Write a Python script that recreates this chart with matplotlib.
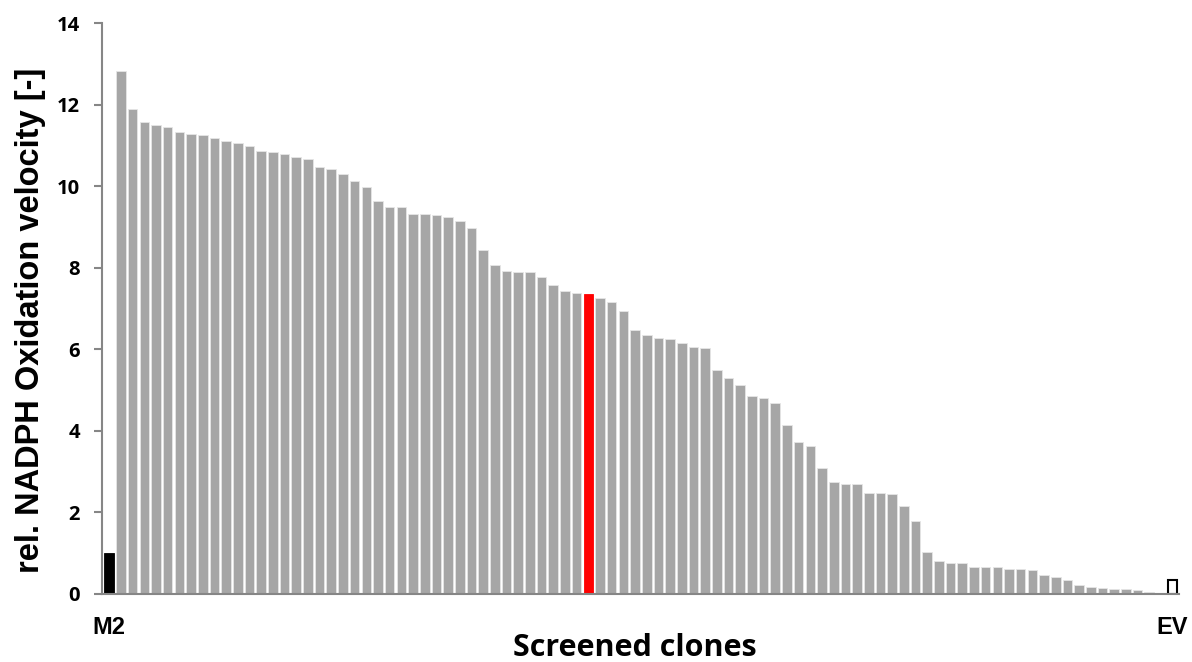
import matplotlib
matplotlib.use("Agg")
import matplotlib.pyplot as plt

# Relative NADPH oxidation velocity per clone (M2 reference, screened clones, empty vector)
clone_labels = ["M2"] + [""] * 90 + ["EV"]
velocity = [
    1.00,
    12.84, 11.90, 11.59, 11.50, 11.45, 11.34, 11.28, 11.25, 11.18, 11.10,
    11.07, 10.98, 10.86, 10.83, 10.79, 10.71, 10.66, 10.47, 10.42, 10.29,
    10.12, 9.98, 9.63, 9.50, 9.48, 9.31, 9.31, 9.29, 9.25, 9.15,
    8.97, 8.44, 8.06, 7.91, 7.90, 7.89, 7.78, 7.57, 7.44, 7.37,
    7.35, 7.26, 7.17, 6.93, 6.47, 6.34, 6.27, 6.25, 6.15, 6.05,
    6.04, 5.49, 5.29, 5.11, 4.86, 4.80, 4.67, 4.14, 3.71, 3.62,
    3.09, 2.73, 2.69, 2.68, 2.48, 2.48, 2.44, 2.16, 1.78, 1.02,
    0.79, 0.75, 0.74, 0.66, 0.66, 0.64, 0.61, 0.59, 0.57, 0.45,
    0.40, 0.34, 0.20, 0.16, 0.13, 0.12, 0.11, 0.09, 0.03, 0.02,
    0.33,
]
highlight_index = 41
y_ticks = [0, 2, 4, 6, 8, 10, 12, 14]

W, H = 1192, 662
fig = plt.figure(figsize=(W / 100, H / 100), dpi=100)
ax = fig.add_axes([102 / W, 1 - 593.5 / H, (1179 - 102) / W, (593.5 - 23.4) / H])

n = len(velocity)
x = list(range(n))
face = ["#a6a6a6"] * n
edge = ["#e6e6e6"] * n
face[0], edge[0] = "black", "black"
face[highlight_index], edge[highlight_index] = "#ff0000", "#ff0000"
face[-1], edge[-1] = "white", "black"
lw = [0.6] * n
lw[-1] = 1.5

ax.bar(x, velocity, width=0.82, color=face, edgecolor=edge, linewidth=lw, zorder=2)

ax.set_xlim(-0.62, n - 1 + 0.55)
ax.set_ylim(0, 14)
ax.set_yticks(y_ticks)
ax.set_yticklabels([str(t) for t in y_ticks], fontfamily="Open Sans",
                   fontweight="bold", fontsize=14.5)
ax.set_xticks(x)
ax.set_xticklabels(clone_labels, fontfamily="Liberation Sans",
                   fontweight="bold", fontsize=17)
ax.tick_params(axis="x", length=0, pad=16)
ax.tick_params(axis="y", length=6, width=1.5, color="#868686", direction="out", pad=10)

for side in ("top", "right"):
    ax.spines[side].set_visible(False)
for side in ("left", "bottom"):
    ax.spines[side].set_color("#868686")
    ax.spines[side].set_linewidth(1.5)
    ax.spines[side].set_zorder(3)

ax.set_ylabel("rel. NADPH Oxidation velocity [-]", fontfamily="Liberation Sans",
              fontweight="bold", fontsize=23.5)
ax.yaxis.set_label_coords(-0.052, 0.48)
fig.text((512 + 758) / 2 / W, 1 - 648 / H, "Screened clones", fontfamily="Open Sans",
         fontweight="bold", fontsize=22, ha="center", va="center")

fig.savefig("out.png", dpi=100, facecolor="white")
